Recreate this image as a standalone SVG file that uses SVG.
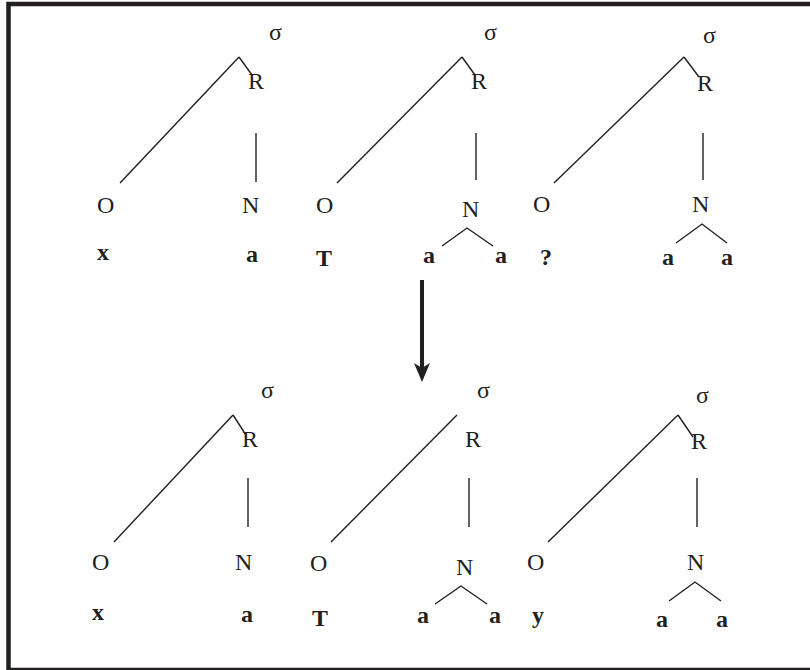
<svg xmlns="http://www.w3.org/2000/svg" width="810" height="670" viewBox="0 0 810 670">
<style>
text{font-family:"Liberation Serif","Times New Roman",serif;font-size:24px;fill:#231f20}
.b{font-weight:bold}
line,polyline{stroke:#231f20;stroke-width:1.4;fill:none}
</style>
<rect width="810" height="670" fill="#ffffff"/>
<rect x="8.5" y="4" width="820" height="666" fill="none" stroke="#231f20" stroke-width="4.5"/>
<g id="connectors">
<line x1="239" y1="57" x2="252" y2="75"/>
<line x1="256" y1="133" x2="256" y2="182"/>
<line x1="239" y1="57" x2="120" y2="183"/>
<line x1="462" y1="57" x2="475" y2="75"/>
<line x1="476" y1="133" x2="476" y2="180"/>
<line x1="462" y1="57" x2="337" y2="183"/>
<polyline points="442,246 467,228 493,246"/>
<line x1="684" y1="57" x2="699" y2="77"/>
<line x1="703" y1="133" x2="703" y2="180"/>
<line x1="684" y1="57" x2="554" y2="183"/>
<polyline points="676,243 702,224 727,243"/>
<line x1="233" y1="415" x2="246" y2="435"/>
<line x1="248" y1="478" x2="248" y2="527"/>
<line x1="233" y1="415" x2="114" y2="542"/>
<line x1="469" y1="478" x2="469" y2="527"/>
<line x1="457" y1="415" x2="331" y2="542"/>
<polyline points="435,604 461,586 487,604"/>
<line x1="678" y1="415" x2="693" y2="437"/>
<line x1="697" y1="478" x2="697" y2="527"/>
<line x1="678" y1="415" x2="548" y2="542"/>
<polyline points="669,601 695,582 721,601"/>
<line x1="422" y1="280" x2="422" y2="368" style="stroke-width:4"/>
<polygon points="414,363 422,368 430,363 422,382" fill="#231f20"/>
</g>
<g id="tree-top-1">
<text x="269" y="40">σ</text>
<text x="248" y="89">R</text>
<text x="97" y="213">O</text>
<text x="242" y="213">N</text>
<text class="b" x="97" y="260">x</text>
<text class="b" x="246" y="262">a</text>
</g>
<g id="tree-top-2">
<text x="484" y="40">σ</text>
<text x="471" y="89">R</text>
<text x="316" y="213">O</text>
<text x="462" y="217">N</text>
<text class="b" x="316" y="266">T</text>
<text class="b" x="423" y="263">a</text>
<text class="b" x="495" y="263">a</text>
</g>
<g id="tree-top-3">
<text x="703" y="43">σ</text>
<text x="697" y="91">R</text>
<text x="533" y="212">O</text>
<text x="692" y="212">N</text>
<text class="b" x="540" y="265">?</text>
<text class="b" x="662" y="265">a</text>
<text class="b" x="721" y="265">a</text>
</g>
<g id="tree-bottom-1">
<text x="261" y="398">σ</text>
<text x="242" y="447">R</text>
<text x="92" y="570">O</text>
<text x="235" y="570">N</text>
<text class="b" x="92" y="620">x</text>
<text class="b" x="241" y="622">a</text>
</g>
<g id="tree-bottom-2">
<text x="477" y="398">σ</text>
<text x="465" y="447">R</text>
<text x="310" y="571">O</text>
<text x="456" y="575">N</text>
<text class="b" x="312" y="626">T</text>
<text class="b" x="417" y="623">a</text>
<text class="b" x="489" y="623">a</text>
</g>
<g id="tree-bottom-3">
<text x="696" y="403">σ</text>
<text x="691" y="449">R</text>
<text x="527" y="570">O</text>
<text x="687" y="570">N</text>
<text class="b" x="532" y="623">y</text>
<text class="b" x="656" y="627">a</text>
<text class="b" x="716" y="627">a</text>
</g>
</svg>
